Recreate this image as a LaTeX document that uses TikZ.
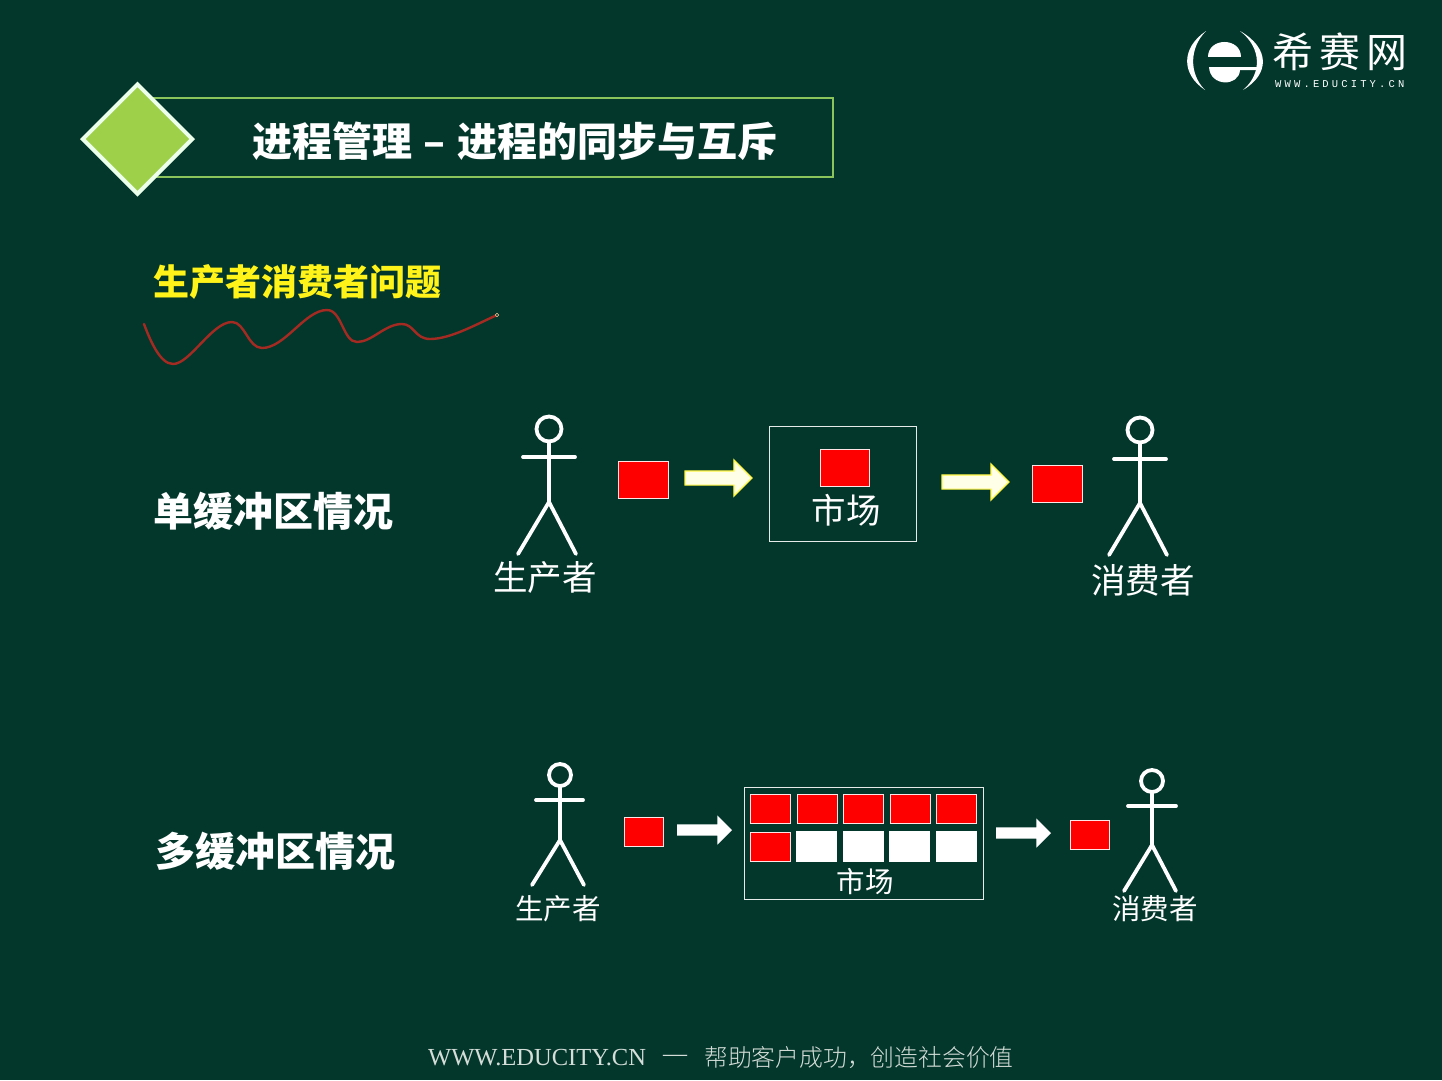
\documentclass[tikz,border=0pt]{standalone}
\usepackage{fontspec}
\usetikzlibrary{shapes.arrows,shapes.geometric}
\setmainfont{Liberation Serif}
\newfontfamily\cjk{Noto Sans CJK SC}
\newfontfamily\cjkb{Noto Sans CJK SC Black}
\newfontfamily\cjkl{Noto Sans CJK SC Light}
\newfontfamily\cjkspaced[LetterSpace=15]{Noto Sans CJK SC}
\newfontfamily\logolatin[LetterSpace=30]{Liberation Mono}
\definecolor{bg}{HTML}{03372B}
\definecolor{framegreen}{HTML}{8CC45C}
\definecolor{diamondgreen}{HTML}{9FD04A}
\definecolor{cured}{HTML}{A52A22}
\definecolor{foot}{HTML}{D5DDD8}
\tikzset{
  x=1pt,y=-1pt,
  fs/.style={font=\cjk\fontsize{#1}{#1}\selectfont,text=white,inner sep=0pt},
  headingtxt/.style={font=\cjkb\fontsize{40}{40}\selectfont,text=white,inner sep=0pt},
  man/.style={draw=white,line width=3.8pt,line cap=round},
  redbox/.style={draw=white!90!red,line width=1.3pt,fill=red,rectangle,inner sep=0pt,anchor=north west,minimum width=#1},
  whitebox/.style={fill=white,rectangle,inner sep=0pt,anchor=north west,minimum width=41pt,minimum height=31pt},
  market/.style={draw=white!90!bg,line width=1.4pt,rectangle,inner sep=0pt,anchor=north west},
  blockarrow/.style 2 args={single arrow,inner xsep=0pt,inner ysep=#1,anchor=tail,single arrow head extend=#2,outer sep=0pt},
  yellowarrow/.style={blockarrow={6.5pt}{11pt},minimum height=67pt,fill=white!90!yellow,draw=yellow!75!white,line width=1.2pt},
  whitearrow/.style={blockarrow={5.5pt}{9pt},minimum height=55pt,fill=white},
}
\newcommand{\stickfig}[9]{% head x,y,r, arm y, xl, xr, hip y, foot dx, foot y
  \draw[man] (#1,#2) circle (#3);
  \draw[man] (#1,#2+#3) -- (#1,#7);
  \draw[man] (#5,#4) -- (#6,#4);
  \draw[man] (#1-#8-2,#9) -- (#1,#7) -- (#1+#8-2,#9);
}
\begin{document}
\begin{tikzpicture}
\useasboundingbox (0,0) rectangle (1442,1080);
\fill[bg] (0,0) rectangle (1442,1080);

% title frame
\node[draw=framegreen,line width=2pt,rectangle,anchor=north west,minimum width=696pt,minimum height=79pt,inner sep=0pt,outer sep=0pt] (titleframe) at (137,98) {};
\node[diamond,aspect=1,draw=white!92!green,line width=4pt,fill=diamondgreen,minimum width=111pt,minimum height=111pt,inner sep=0pt] (badge) at (137.5,139) {};
\node[headingtxt,anchor=west] (title) at (252,141) {进程管理\hspace{2.5pt} – \hspace{2.5pt}进程的同步与互斥};

% logo
\fill[white] (1206,31) .. controls (1181,48) and (1181,74) .. (1205,90) .. controls (1189,74) and (1189,48) .. (1206,31) -- cycle;
\fill[white] (1240,31) .. controls (1270,48) and (1270,74) .. (1243,90) .. controls (1262,74) and (1262,48) .. (1240,31) -- cycle;
\fill[white] (1208,57) .. controls (1208,37) and (1241,37) .. (1241,57) -- cycle;
\fill[white] (1209,67) -- (1258,67) -- (1258,70) -- (1240,70) .. controls (1239,87) and (1210,87) .. (1209,67) -- cycle;
\node[fs=41,anchor=west] (logozh) at (1272,52) {\cjkspaced\fontsize{41}{41}\selectfont 希赛网};
\node[font=\logolatin\fontsize{10.5}{10.5}\selectfont,text=white,inner sep=0pt,anchor=west] (logoen) at (1275,84) {WWW.EDUCITY.CN};

% subtitle
\node[font=\cjkb\fontsize{36}{36}\selectfont,text=yellow!90!white,inner sep=0pt] (subtitle) at (297,282) {生产者消费者问题};
\draw[cured,line width=2.4pt,line cap=round] (144,324) .. controls (150,340) and (160,364) .. (173,364) .. controls (190,364) and (212,322) .. (232,322) .. controls (245,322) and (248,348) .. (262,348) .. controls (285,348) and (305,310) .. (327,310) .. controls (342,310) and (343,342) .. (357,342) .. controls (372,342) and (385,324) .. (402,324) .. controls (414,324) and (415,339) .. (430,339) .. controls (450,339) and (475,325) .. (497,315);
\node[circle,draw=white!60!orange,fill=bg,line width=.6pt,minimum size=3.5pt,inner sep=0pt] (curveend) at (497,315) {};

% single buffer
\node[headingtxt] (single) at (273,511) {单缓冲区情况};
\stickfig{549}{429}{12.5}{457}{523}{575}{502}{29}{554}
\node[fs=34.5] (prodA) at (545,577) {生产者};
\node[redbox=50pt,minimum height=37pt] (itemA) at (618,461) {};
\node[market,minimum width=147pt,minimum height=115pt] (marketA) at (769,426) {};
\node[redbox=49pt,minimum height=37pt] (itemB) at (820,449) {};
\node[fs=34.5] (marketAlabel) at (846,510) {市场};
\node[redbox=50pt,minimum height=37pt] (itemC) at (1032,465) {};
\stickfig{1140}{430}{12.5}{459}{1114}{1166}{503}{29}{555}
\node[fs=34.5] (consA) at (1143,580) {消费者};
\node[yellowarrow] (arrA) at (685,478) {};
\node[yellowarrow] (arrB) at (942,482) {};

% multi buffer
\node[headingtxt] (multi) at (275,851) {多缓冲区情况};
\stickfig{560}{775}{11}{800}{536}{583}{840}{26}{885}
\node[fs=28.5] (prodB) at (558,909) {生产者};
\node[redbox=39pt,minimum height=29pt] (itemD) at (624,817) {};
\node[market,minimum width=239pt,minimum height=112pt] (marketB) at (743.5,787) {};
\foreach \n/\x in {1/750,2/797,3/843,4/890,5/936}
  \node[redbox=40pt,minimum height=29pt] (top\n) at (\x,794) {};
\node[redbox=40pt,minimum height=29pt] (low1) at (750,832) {};
\foreach \n/\x in {2/796,3/843,4/889,5/936}
  \node[whitebox] (low\n) at (\x,831) {};
\node[fs=28.5] (marketBlabel) at (865,882) {市场};
\node[redbox=39pt,minimum height=29pt] (itemE) at (1070,820) {};
\stickfig{1152}{781}{11}{806}{1128}{1176}{845}{26}{891}
\node[fs=28.5] (consB) at (1155,909) {消费者};
\node[whitearrow] (arrC) at (677,830) {};
\node[whitearrow] (arrD) at (996,833) {};

% footer
\node[font=\fontsize{24.5}{24.5}\selectfont,text=foot,inner sep=0pt,anchor=west] (footurl) at (428,1058) {WWW.EDUCITY.CN};
\node[font=\fontsize{24}{24}\selectfont,text=foot,inner sep=0pt] (footdash) at (675,1058) {—};
\node[font=\cjkl\fontsize{23.8}{23.8}\selectfont,text=foot,inner sep=0pt,anchor=west] (footzh) at (704,1058) {帮助客户成功\char"FF0C 创造社会价值};
\end{tikzpicture}
\end{document}
